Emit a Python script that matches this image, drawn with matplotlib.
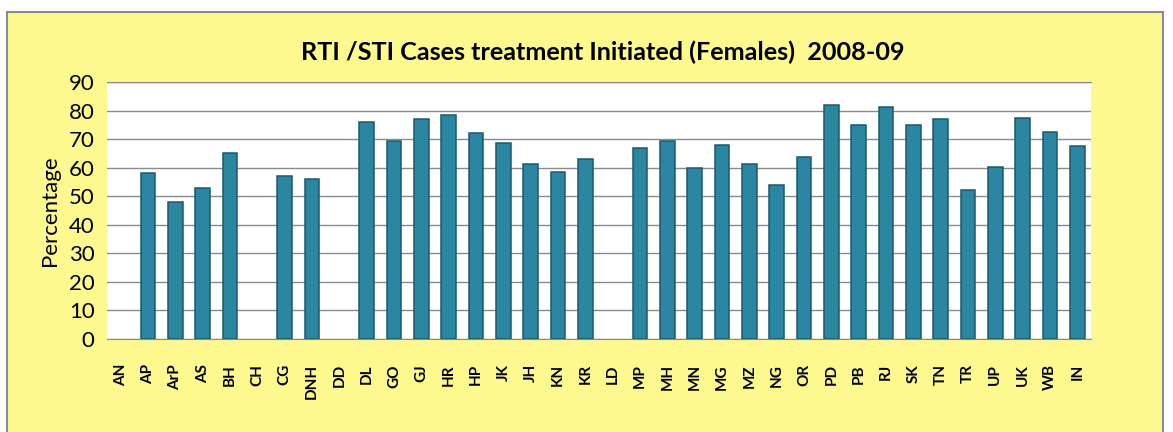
import numpy as np
import matplotlib
matplotlib.use("Agg")
import matplotlib.pyplot as plt
from matplotlib.patches import Rectangle

# data
states = ['AN', 'AP', 'ArP', 'AS', 'BH', 'CH', 'CG', 'DNH', 'DD', 'DL', 'GO', 'GJ',
          'HR', 'HP', 'JK', 'JH', 'KN', 'KR', 'LD', 'MP', 'MH', 'MN', 'MG', 'MZ',
          'NG', 'OR', 'PD', 'PB', 'RJ', 'SK', 'TN', 'TR', 'UP', 'UK', 'WB', 'IN']
pct = [0, 58, 48, 53, 65, 0, 57, 56, 0, 76, 69.5, 77,
       78.5, 72.3, 68.6, 61.4, 58.5, 63.1, 0, 67, 69.5, 59.8, 67.8, 61.3,
       53.8, 63.6, 82, 74.9, 81.2, 74.9, 77, 52.2, 60.1, 77.3, 72.6, 67.7]
yticks = [0, 10, 20, 30, 40, 50, 60, 70, 80, 90]

W, H = 1173, 432
fig = plt.figure(figsize=(W / 100, H / 100), dpi=100, facecolor='white')

# yellow chart area with grey frame
frame = Rectangle((7 / W, -0.05), (1163 - 7) / W, 1 - 12 / H + 0.05,
                  transform=fig.transFigure, facecolor='#fdf98f',
                  edgecolor='#8c8a94', linewidth=1.5)
frame.set_zorder(-10)
fig.patches.append(frame)

ax = fig.add_axes([107 / W, 1 - 339 / H, (1091 - 107) / W, (339 - 82) / H])
ax.set_facecolor('white')

x = np.arange(len(states))
lw = [1.1 if v > 0 else 0 for v in pct]  # no outline for the empty states
ax.bar(x, pct, width=0.53, color='#2b87a1', edgecolor='#1b5a6c', linewidth=lw, zorder=3)

ax.set_xlim(-0.5, len(states) - 0.5)
ax.set_ylim(0, 90)
ax.set_yticks(yticks)
ax.set_yticklabels([str(t) for t in yticks], fontsize=16, fontfamily='Lato')
ax.set_xticks(x)
ax.set_xticklabels(states, rotation=90, fontsize=11, fontweight='bold', fontfamily='Lato')
ax.tick_params(length=0)
ax.tick_params(axis='y', pad=9)
ax.tick_params(axis='x', pad=18)

ax.yaxis.grid(True, color='#8a8a8a', linewidth=1, zorder=0)
for s in ['left', 'right']:
    ax.spines[s].set_visible(False)
ax.spines['top'].set_color('#8a8a8a')
ax.spines['bottom'].set_color('#8a8a8a')

ax.set_ylabel('Percentage', fontsize=16, fontfamily='Lato', labelpad=6)

fig.text(603 / W, 1 - 52 / H, 'RTI /STI Cases treatment Initiated (Females)  2008-09',
         ha='center', va='center', fontsize=18.2, fontweight='bold', fontfamily='Lato')

plt.savefig('out.png', dpi=100, facecolor=fig.get_facecolor())
